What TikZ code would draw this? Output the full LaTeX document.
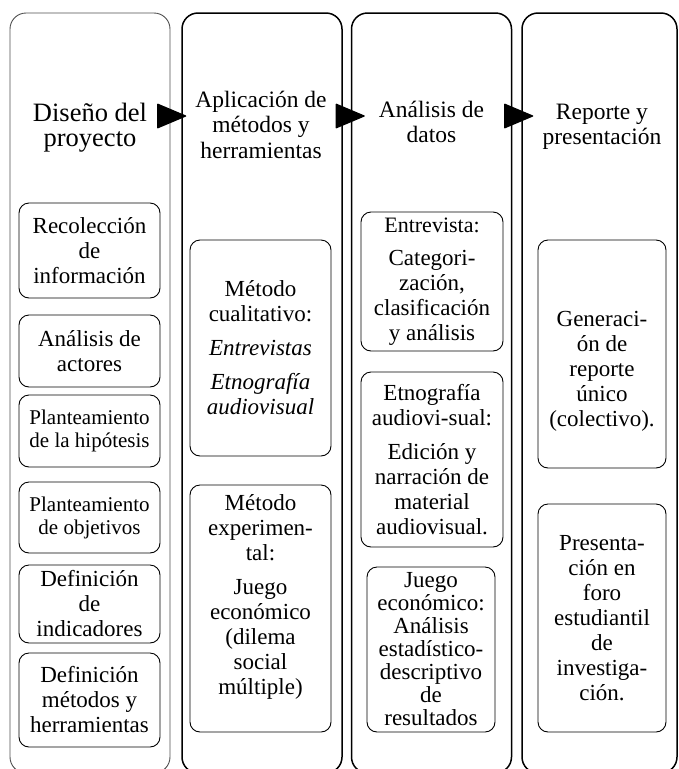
\documentclass[tikz,border=0pt]{standalone}
\usepackage{fontspec}
\setmainfont{Liberation Serif}
\usetikzlibrary{arrows.meta}
\definecolor{ink}{HTML}{000000}
\definecolor{softink}{HTML}{505050}
\newcommand{\bodyfont}{\fontsize{23}{25}\selectfont}
\newcommand{\smallbody}{\fontsize{21}{23}\selectfont}
\tikzset{
  stagecol/.style={draw=ink,line width=1.5pt,rounded corners=16pt,minimum width=160pt,
    minimum height=760pt,inner sep=0pt},
  stagetitle/.style={align=center,inner sep=0pt,font=\fontsize{23.5}{25.5}\selectfont},
  taskbox/.style={draw=ink,line width=0.9pt,rounded corners=10pt,align=center,
    inner sep=0pt,minimum width=141pt,font=\bodyfont},
  stagearrow/.style={-{Triangle[length=30pt,width=25pt,round]},line width=1.2pt,draw=ink}
}

\begin{document}
\begin{tikzpicture}[x=1pt,y=-1pt]
\useasboundingbox (0,0) rectangle (678,769);
\clip (0,0) rectangle (678,769);
\node[stagecol,draw=softink,line width=0.9pt] (diseno) at (90,393) {};
\node[stagecol] (aplicacion) at (262,393) {};
\node[stagecol] (analisis) at (431.5,393) {};
\node[stagecol,minimum width=155pt] (reporte) at (599.5,393) {};
\node[stagetitle,font=\fontsize{26.5}{25}\selectfont] (disenotitle) at (90,128) {Diseño del\\proyecto};
\node[stagetitle] (aplicaciontitle) at (261,124.5) {Aplicación de\\métodos y\\herramientas};
\node[stagetitle] (analisistitle) at (431.5,122) {Análisis de\\datos};
\node[stagetitle] (reportetitle) at (602,127) {Reporte y\\presentación};
\draw[stagearrow,shorten >=-5pt] (diseno.east |- 0,116) -- (aplicacion.west |- 0,116);
\draw[stagearrow,shorten >=-14pt] (aplicacion.east |- 0,116) -- (analisis.west |- 0,116);
\draw[stagearrow,shorten >=-12pt] (analisis.east |- 0,116) -- (reporte.west |- 0,116);
\node[taskbox,minimum height=95pt] (recoleccion) at (89.5,250.5) {Recolección\\de\\información};
\node[taskbox,minimum height=72pt] (actores) at (89.5,351) {Análisis de\\actores};
\node[taskbox,minimum height=72pt,font=\smallbody] (hipotesis) at (89.5,431) {Planteamiento\\de la hipótesis};
\node[taskbox,minimum height=71pt,font=\smallbody] (objetivos) at (89.5,517.5) {Planteamiento\\de objetivos};
\node[taskbox,minimum height=78pt] (indicadores) at (89.5,604) {Definición\\de\\indicadores};
\node[taskbox,minimum height=94pt] (metodos) at (89.5,700) {Definición\\métodos y\\herramientas};
\node[taskbox,minimum height=216pt] (cualitativo) at (260.5,348) {Método\\cualitativo:\\[9pt]\textit{Entrevistas}\\[9pt]\textit{Etnografía}\\\textit{audiovisual}};
\node[taskbox,minimum height=247pt] (experimental) at (260.5,608.5) {Método\\experimen-\\tal:\\[9pt]Juego\\económico\\(dilema\\social\\múltiple)\rule[-28pt]{0pt}{28pt}};
\node[taskbox,minimum width=142pt,minimum height=139pt] (entrevista) at (432,281.5) {{\fontsize{22}{25}\selectfont Entrevista:}\\[8pt]Categori-\\zación,\\clasificación\\y análisis};
\node[taskbox,minimum width=142pt,minimum height=175pt] (etnografia) at (432,459.5) {Etnografía\\audiovi-sual:\\[9pt]Edición y\\narración de\\material\\audiovisual.};
\node[taskbox,minimum width=128pt,minimum height=165pt,font=\fontsize{23}{23}\selectfont] (juego) at (431,649.5) {Juego\\económico:\\Análisis\\estadístico-\\descriptivo\\de\\resultados};
\node[taskbox,minimum width=128pt,minimum height=228pt] (generacion) at (602,354) {\rule{0pt}{50pt}Generaci-\\ón de\\reporte\\único\\(colectivo).};
\node[taskbox,minimum width=128pt,minimum height=228pt] (presentacion) at (602,618) {Presenta-\\ción en\\foro\\estudiantil\\de\\investiga-\\ción.};
\end{tikzpicture}
\end{document}
